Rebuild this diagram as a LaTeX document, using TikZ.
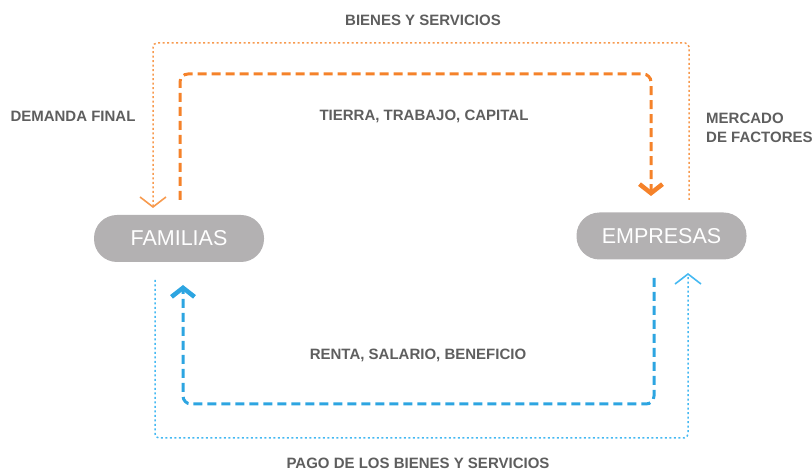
\documentclass[tikz,border=0pt]{standalone}
\usepackage{fontspec}
\setmainfont{Liberation Sans}
\usetikzlibrary{arrows.meta}
\definecolor{naranja}{HTML}{F5822A}
\definecolor{naranjaclaro}{HTML}{F79A4E}
\definecolor{azul}{HTML}{2DA5E1}
\definecolor{azulclaro}{HTML}{45B9F2}
\definecolor{gris}{HTML}{B3B1B2}
\definecolor{texto}{HTML}{5E5E5E}
\tikzset{
  agente/.style={fill=gris, text=white, rounded corners=23pt, minimum width=170pt,
    minimum height=47pt, font=\fontsize{21.5}{24}\selectfont},
  etiqueta/.style={text=texto, inner sep=0pt, font=\fontsize{15}{19}\selectfont\bfseries},
  flujo/.style={line width=3pt, dash pattern=on 9pt off 5pt, rounded corners=8pt,
    -{Straight Barb[length=9pt,width=23pt,line width=4.5pt]}},
  pago/.style={line width=1.5pt, dash pattern=on 2pt off 2.5pt, rounded corners=4pt,
    -{Straight Barb[length=10pt,width=26pt,line width=1.6pt]}},
}
\begin{document}
\begin{tikzpicture}[x=1pt,y=-1pt]
  \useasboundingbox (0,0) rectangle (812,470);
  % agentes
  \node[agente] (familias) at (179,238.5) {FAMILIAS};
  \node[agente] (empresas) at (661.5,236) {EMPRESAS};
  % extremos de los flujos
  \coordinate (bienes-ini) at (689,200);
  \coordinate (bienes-fin) at (153,208);
  \coordinate (factores-ini) at (180,200);
  \coordinate (factores-fin) at (651,196);
  \coordinate (renta-ini) at (654,278);
  \coordinate (renta-fin) at (183,285);
  \coordinate (pago-ini) at (155,280);
  \coordinate (pago-fin) at (688,273);
  % flujos reales
  \draw[pago, naranjaclaro] (bienes-ini) -- (bienes-ini |- 0,43) -- (bienes-fin |- 0,43) -- (bienes-fin);
  \draw[flujo, naranja] (factores-ini) -- (factores-ini |- 0,74) -- (factores-fin |- 0,74) -- (factores-fin);
  % flujos monetarios
  \draw[flujo, azul] (renta-ini) -- (renta-ini |- 0,404) -- (renta-fin |- 0,404) -- (renta-fin);
  \draw[pago, azulclaro] (pago-ini) -- (pago-ini |- 0,438) -- (pago-fin |- 0,438) -- (pago-fin);
  % etiquetas
  \node[etiqueta] (bienes) at (423,20) {BIENES Y SERVICIOS};
  \node[etiqueta] (demanda) at (73,116) {DEMANDA FINAL};
  \node[etiqueta] (tierra) at (424,116) {TIERRA, TRABAJO, CAPITAL};
  \node[etiqueta, align=left, anchor=west] (mercado) at (706,128) {MERCADO\\DE FACTORES};
  \node[etiqueta] (renta) at (418,355) {RENTA, SALARIO, BENEFICIO};
  \node[etiqueta] (pago) at (418,463) {PAGO DE LOS BIENES Y SERVICIOS};
\end{tikzpicture}
\end{document}
